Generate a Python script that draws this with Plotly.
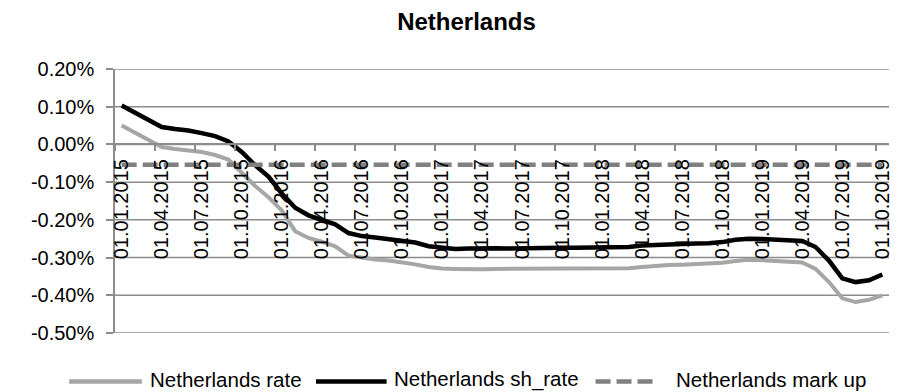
import plotly.graph_objects as go

# Monthly observation dates (first of each month, Jan 2015 - Oct 2019)
months = [f"01.{m:02d}.{y}" for y in range(2015, 2020) for m in range(1, 13)][:58]

# Netherlands rate, in percent
nl_rate = [
    0.050, 0.030, 0.010, -0.007, -0.012, -0.016, -0.020, -0.028, -0.040, -0.075,
    -0.110, -0.140, -0.175, -0.230, -0.248, -0.258, -0.270, -0.295, -0.301, -0.305,
    -0.308, -0.312, -0.318, -0.325, -0.329, -0.330, -0.331, -0.331, -0.330, -0.330,
    -0.330, -0.329, -0.329, -0.329, -0.329, -0.329, -0.328, -0.328, -0.328, -0.325,
    -0.322, -0.320, -0.319, -0.318, -0.317, -0.314, -0.309, -0.306, -0.307, -0.309,
    -0.311, -0.313, -0.330, -0.365, -0.408, -0.418, -0.412, -0.400,
]

# Netherlands short rate, in percent
nl_sh_rate = [
    0.103, 0.083, 0.063, 0.046, 0.041, 0.037, 0.030, 0.022, 0.008, -0.020,
    -0.055, -0.085, -0.130, -0.168, -0.188, -0.200, -0.212, -0.235, -0.243, -0.247,
    -0.252, -0.257, -0.260, -0.270, -0.275, -0.277, -0.276, -0.275, -0.275, -0.276,
    -0.275, -0.275, -0.275, -0.274, -0.274, -0.273, -0.273, -0.273, -0.272, -0.268,
    -0.266, -0.265, -0.264, -0.263, -0.262, -0.259, -0.253, -0.250, -0.251, -0.252,
    -0.253, -0.256, -0.272, -0.308, -0.355, -0.365, -0.360, -0.345,
]

# Netherlands mark up, in percent
nl_markup = [
    -0.054, -0.054, -0.054, -0.054, -0.054, -0.054, -0.054, -0.054, -0.054, -0.054,
    -0.054, -0.054, -0.054, -0.054, -0.054, -0.054, -0.054, -0.054, -0.054, -0.054,
    -0.054, -0.054, -0.054, -0.054, -0.054, -0.054, -0.054, -0.054, -0.054, -0.054,
    -0.054, -0.054, -0.054, -0.054, -0.054, -0.054, -0.054, -0.054, -0.054, -0.054,
    -0.054, -0.054, -0.054, -0.054, -0.054, -0.054, -0.054, -0.054, -0.054, -0.054,
    -0.054, -0.054, -0.054, -0.054, -0.054, -0.054, -0.054, -0.054,
]

y_ticks = [-0.5, -0.4, -0.3, -0.2, -0.1, 0.0, 0.1, 0.2]
y_tick_labels = ["-0.50%", "-0.40%", "-0.30%", "-0.20%", "-0.10%", "0.00%", "0.10%", "0.20%"]

series_names = ["Netherlands rate", "Netherlands sh_rate", "Netherlands mark up"]
series_colors = ["#a6a6a6", "#000000", "#808080"]

FONT = "Liberation Sans, Arial, sans-serif"
GRID = "#8c8c8c"

W, H = 902, 392
ML, MR, MT, MB = 115, 9, 69, 59
PW, PH = W - ML - MR, H - MT - MB
Y_MIN, Y_MAX = -0.5, 0.2

fig = go.Figure()
fig.add_trace(go.Scatter(x=months, y=nl_rate, mode="lines", name=series_names[0],
                         line=dict(color=series_colors[0], width=4), showlegend=False))
fig.add_trace(go.Scatter(x=months, y=nl_sh_rate, mode="lines", name=series_names[1],
                         line=dict(color=series_colors[1], width=4.5), showlegend=False))
fig.add_trace(go.Scatter(x=months, y=nl_markup, mode="lines", name=series_names[2],
                         line=dict(color=series_colors[2], width=4.5, dash="15px,6px"),
                         showlegend=False))

# Horizontal gridlines at each value tick
for v in y_ticks:
    fig.add_shape(type="line", xref="paper", yref="y", x0=0, x1=1, y0=v, y1=v,
                  layer="below", line=dict(color=GRID, width=1.5))

# Legend row drawn below the plot area (pixel positions converted to paper units)
def px_x(px):
    return (px - ML) / PW

def px_y(py):
    return (H - MB - py) / PH

legend_line_y = 381.5
legend_text_y = 379.0
legend_items = [
    (69, 142, 148, None),
    (317, 388, 393, None),
    (598, 660, 677, "15px,6px"),
]
for (x0, x1, tx, dash), name, color in zip(legend_items, series_names, series_colors):
    fig.add_shape(type="line", xref="paper", yref="paper",
                  x0=px_x(x0), x1=px_x(x1), y0=px_y(legend_line_y), y1=px_y(legend_line_y),
                  line=dict(color=color, width=4.5, dash=dash or "solid"))
    fig.add_annotation(text=name, xref="paper", yref="paper", x=px_x(tx), y=px_y(legend_text_y),
                       xanchor="left", yanchor="middle", showarrow=False,
                       font=dict(family=FONT, size=20.5, color="#000000"))

zero_pos = (0 - Y_MIN) / (Y_MAX - Y_MIN)

fig.update_layout(
    width=W, height=H,
    margin=dict(l=ML, r=MR, t=MT, b=MB, pad=0),
    paper_bgcolor="white", plot_bgcolor="white",
    font=dict(family=FONT, size=20, color="#000000"),
    title=dict(text="<b>Netherlands</b>", x=466.5 / W, xanchor="center", xref="container",
               y=1 - 22 / H, yanchor="middle", yref="container",
               font=dict(family=FONT, size=24, color="#000000")),
    showlegend=False,
    xaxis=dict(
        type="category", anchor="free", position=zero_pos, side="bottom",
        range=[-0.5, len(months) - 0.5],
        dtick=3, tickson="boundaries", ticks="outside", ticklen=6, tickwidth=1.5,
        tickcolor=GRID, tickangle=-90, ticklabelstandoff=6,
        showline=True, linecolor=GRID, linewidth=1.5,
        showgrid=False, zeroline=False,
        tickfont=dict(family=FONT, size=20, color="#000000"),
    ),
    yaxis=dict(
        range=[Y_MIN, Y_MAX], tickvals=y_ticks, ticktext=y_tick_labels,
        ticks="outside", ticklen=7, tickwidth=1.5, tickcolor=GRID,
        ticklabelstandoff=8,
        showline=True, linecolor=GRID, linewidth=1.5,
        showgrid=False, zeroline=False,
        tickfont=dict(family=FONT, size=20, color="#000000"),
    ),
)

fig.write_html("out.html")
